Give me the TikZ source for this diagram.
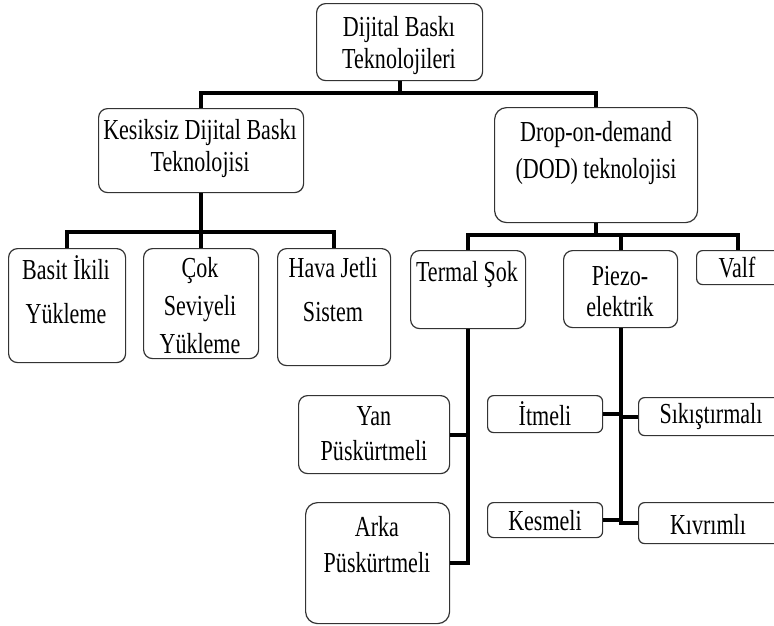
\documentclass[tikz,border=0pt]{standalone}
\usepackage{fontspec}
\setmainfont[FakeStretch=0.76]{Liberation Serif}
\begin{document}
\begin{tikzpicture}[x=1pt,y=-1pt,
  box/.style={draw=black!80, line width=1.2pt, rounded corners=9pt, fill=white, anchor=north west, inner sep=0pt},
  lbl/.style={font=\fontsize{29}{34}\selectfont, align=center, inner sep=0pt},
  conn/.style={line width=4pt, black}]
\useasboundingbox (0,0) rectangle (774,625);
\clip (0,0) rectangle (774,625);
% boxes
\node[box, minimum width=166pt, minimum height=77pt] (top) at (316,3) {};
\node[box, minimum width=205pt, minimum height=84pt] (kes) at (98,108) {};
\node[box, minimum width=203pt, minimum height=115pt, rounded corners=12pt] (dod) at (494,107) {};
\node[box, minimum width=117pt, minimum height=114pt] (b1) at (8,248) {};
\node[box, minimum width=115pt, minimum height=110pt] (b2) at (143,248) {};
\node[box, minimum width=113pt, minimum height=117pt] (b3) at (277,248) {};
\node[box, minimum width=115pt, minimum height=78pt] (termal) at (410,250) {};
\node[box, minimum width=114pt, minimum height=77pt] (piezo) at (563,250) {};
\node[box, minimum width=100pt, minimum height=34pt, rounded corners=6pt] (valf) at (696,250) {};
\node[box, minimum width=151pt, minimum height=78pt] (yan) at (298,395) {};
\node[box, minimum width=144pt, minimum height=121pt, rounded corners=12pt] (arka) at (305,502) {};
\node[box, minimum width=115pt, minimum height=37pt, rounded corners=6pt] (itmeli) at (487,395) {};
\node[box, minimum width=150pt, minimum height=38pt, rounded corners=6pt] (sikis) at (638,397) {};
\node[box, minimum width=115pt, minimum height=35pt, rounded corners=6pt] (kesmeli) at (487,502) {};
\node[box, minimum width=150pt, minimum height=41pt, rounded corners=6pt] (kivrim) at (638,502) {};
% labels
\node[lbl, font=\fontsize{29}{32}\selectfont] (ttop) at (399,46) {Dijital Baskı\\Teknolojileri};
\node[lbl, font=\fontsize{29}{32}\selectfont] (tkes) at (200,149) {Kesiksiz Dijital Baskı\\Teknolojisi};
\node[lbl, font=\fontsize{29}{37}\selectfont] (tdod) at (596,153) {Drop-on-demand\\(DOD) teknolojisi};
\node[lbl, font=\fontsize{29}{44}\selectfont] (tb1) at (66,290) {Basit İkili\\Yükleme};
\node[lbl, font=\fontsize{29}{38}\selectfont] (tb2) at (200,306) {Çok\\Seviyeli\\Yükleme};
\node[lbl, font=\fontsize{29}{44}\selectfont] (tb3) at (333,290) {Hava Jetli\\Sistem};
\node[lbl] (ttermal) at (467,275) {Termal Şok};
\node[lbl, font=\fontsize{29}{31}\selectfont] (tpiezo) at (620,292) {Piezo-\\elektrik};
\node[lbl] (tvalf) at (737,268) {Valf};
\node[lbl, font=\fontsize{29}{35}\selectfont] (tyan) at (374,434) {Yan\\Püskürtmeli};
\node[lbl, font=\fontsize{29}{36}\selectfont] (tarka) at (377,545) {Arka\\Püskürtmeli};
\node[lbl] (titmeli) at (545,414) {İtmeli};
\node[lbl] (tsikis) at (711,417) {Sıkıştırmalı};
\node[lbl] (tkesmeli) at (545,521) {Kesmeli};
\node[lbl] (tkivrim) at (708,525) {Kıvrımlı};
% connectors
\coordinate (bus1) at (398,93);
\draw[conn] (top.south) -- (top.south |- bus1);
\draw[conn] (kes.north) |- (bus1) -| (dod.north);
\coordinate (bus2) at (200,232);
\draw[conn] (kes.south) -- (b2.north);
\draw[conn] (b1.north) |- (bus2) -| (b3.north);
\coordinate (bus3) at (596,235);
\coordinate (valfin) at (738,250);
\draw[conn] (dod.south) -- (dod.south |- bus3);
\draw[conn] (termal.north) |- (bus3) -| (valfin);
\draw[conn] (piezo.north) -- (piezo.north |- bus3);
\draw[conn] (termal.south) |- (arka.east);
\draw[conn] (yan.east) -- (yan.east -| termal.south);
\draw[conn] (piezo.south) |- (kivrim.west);
\draw[conn] (itmeli.east) -- (itmeli.east -| piezo.south);
\draw[conn] (sikis.west) -- (sikis.west -| piezo.south);
\draw[conn] (kesmeli.east) -- (kesmeli.east -| piezo.south);
\end{tikzpicture}
\end{document}
